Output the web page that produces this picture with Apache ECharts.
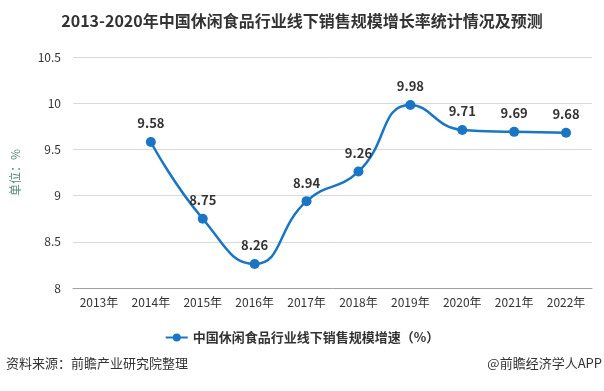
<!DOCTYPE html>
<html>
<head>
<meta charset="utf-8">
<script src="https://cdn.jsdelivr.net/npm/echarts@6/dist/echarts.min.js"></script>
<style>
html,body{margin:0;padding:0;background:#fff;}
#main{width:604px;height:391px;}
</style>
</head>
<body>
<div id="main"></div>
<script>
var titleText = '2013-2020年中国休闲食品行业线下销售规模增长率统计情况及预测';
var categories = ['2013年','2014年','2015年','2016年','2017年','2018年','2019年','2020年','2021年','2022年'];
var seriesName = '中国休闲食品行业线下销售规模增速（%）';
var growthValues = [null, 9.58, 8.75, 8.26, 8.94, 9.26, 9.98, 9.71, 9.69, 9.68];
var yTicks = [8, 8.5, 9, 9.5, 10, 10.5];
var sourceText = '资料来源：前瞻产业研究院整理';
var brandText = '@前瞻经济学人APP';

var chart = echarts.init(document.getElementById('main'), null, {renderer: 'canvas'});
var font = '"Microsoft YaHei","Noto Sans CJK SC",sans-serif';
chart.setOption({
  backgroundColor: '#fff',
  animation: false,
  textStyle: {fontFamily: font},
  title: {
    text: titleText,
    left: 'center',
    top: 8,
    textStyle: {fontSize: 16, fontWeight: 'bold', color: '#333', fontFamily: font}
  },
  legend: {
    data: [seriesName],
    bottom: 42,
    left: 'center',
    itemWidth: 22,
    itemHeight: 10,
    textStyle: {fontSize: 13, fontWeight: 'bold', color: '#333', fontFamily: font}
  },
  grid: {left: 73, right: 12, top: 57, bottom: 103},
  xAxis: {
    type: 'category',
    data: categories,
    boundaryGap: true,
    axisLine: {lineStyle: {color: '#a0a0a0', width: 1}},
    axisTick: {alignWithLabel: true, length: 5, lineStyle: {color: '#a0a0a0'}},
    axisLabel: {fontSize: 12, color: '#333', margin: 8, fontFamily: font}
  },
  yAxis: {
    type: 'value',
    min: yTicks[0],
    max: yTicks[yTicks.length - 1],
    interval: 0.5,
    name: '单位：%',
    nameLocation: 'middle',
    nameRotate: 90,
    nameGap: 52,
    nameTextStyle: {fontSize: 12, color: '#5b8a7a', fontFamily: font},
    axisLine: {show: false},
    axisTick: {show: false},
    axisLabel: {fontSize: 12, color: '#333', margin: 12, fontFamily: font},
    splitLine: {lineStyle: {color: '#d9d9d9', width: 1}}
  },
  series: [{
    name: seriesName,
    type: 'line',
    data: growthValues,
    smooth: true,
    connectNulls: false,
    symbol: 'circle',
    symbolSize: 10,
    lineStyle: {color: '#1a76c3', width: 2.5},
    itemStyle: {color: '#1a76c3'},
    label: {
      show: true,
      position: 'top',
      distance: 7,
      fontSize: 13,
      fontWeight: 'bold',
      color: '#333',
      fontFamily: font
    }
  }],
  graphic: [
    {type: 'text', left: 6, top: 357, style: {text: sourceText, fontSize: 13, fill: '#333', fontFamily: font}},
    {type: 'text', right: 2, top: 357, style: {text: brandText, fontSize: 13, fill: '#333', fontFamily: font}}
  ]
});
</script>
</body>
</html>
